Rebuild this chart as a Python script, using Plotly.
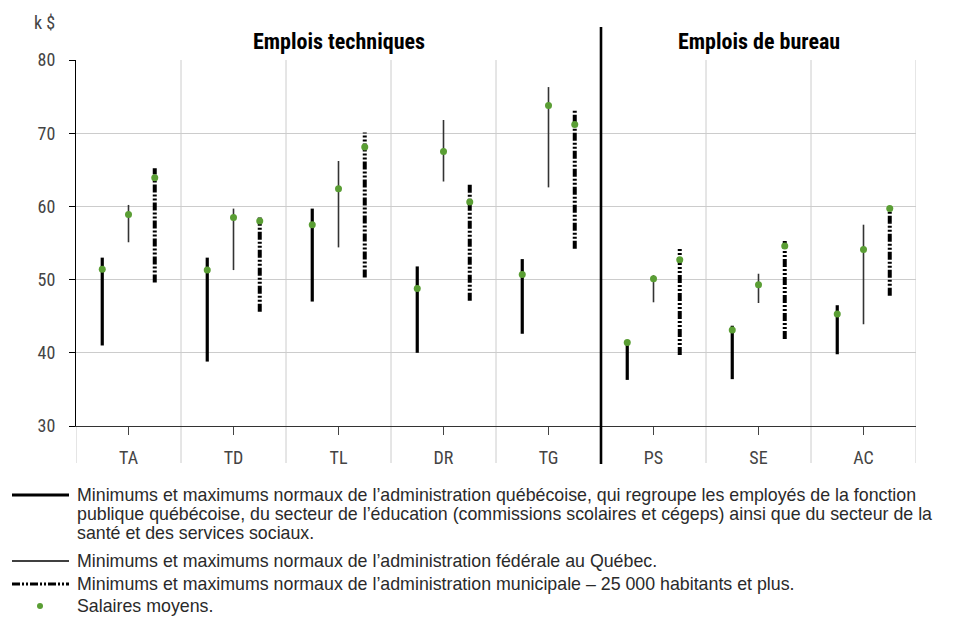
import plotly.graph_objects as go

categories = ["TA", "TD", "TL", "DR", "TG", "PS", "SE", "AC"]
y_ticks = [30, 40, 50, 60, 70, 80]

qc_min = [41.0, 38.8, 47.0, 40.0, 42.6, 36.3, 36.4, 39.8]
qc_max = [53.0, 53.0, 59.7, 51.8, 52.8, 41.6, 43.7, 46.5]
qc_mean = [51.4, 51.3, 57.5, 48.8, 50.7, 41.4, 43.1, 45.3]

fed_min = [55.1, 51.3, 54.4, 63.4, 62.6, 46.9, 46.8, 43.9]
fed_max = [60.2, 59.7, 66.2, 71.8, 76.3, 50.6, 50.8, 57.5]
fed_mean = [58.9, 58.5, 62.4, 67.5, 73.8, 50.1, 49.3, 54.1]

mun_min = [49.6, 45.6, 50.3, 47.1, 54.2, 39.7, 41.9, 47.8]
mun_max = [65.2, 58.5, 70.1, 63.1, 73.3, 54.4, 55.4, 59.8]
mun_mean = [63.9, 58.0, 68.1, 60.6, 71.2, 52.7, 54.6, 59.7]

group_titles = ["Emplois techniques", "Emplois de bureau"]
legend_lines = [
    "Minimums et maximums normaux de l’administration québécoise, qui regroupe les employés de la fonction",
    "publique québécoise, du secteur de l’éducation (commissions scolaires et cégeps) ainsi que du secteur de la",
    "santé et des services sociaux.",
    "Minimums et maximums normaux de l’administration fédérale au Québec.",
    "Minimums et maximums normaux de l’administration municipale – 25 000 habitants et plus.",
    "Salaires moyens.",
]

OFF = 8  # page body margin
W, H = 946, 609
ML, MT = 76 - OFF, 60 - OFF
PW, PH = 840, 366
MR, MB = W - ML - PW, H - MT - PH

COND = "Liberation Sans Narrow, Roboto Condensed, Roboto, sans-serif"
BODY = "Liberation Sans, Arial, sans-serif"
GREEN = "#5a9e34"


def px(xs):
    return (xs - OFF - ML) / PW


def py(ys):
    return (MT + PH - (ys - OFF)) / PH


def segs(offset, lo, hi):
    xs, ys = [], []
    for i, (a, b) in enumerate(zip(lo, hi)):
        xs += [i + offset, i + offset, None]
        ys += [a, b, None]
    return xs, ys


fig = go.Figure()
off = 0.25
x, y = segs(-off, qc_min, qc_max)
fig.add_trace(go.Scatter(x=x, y=y, mode="lines", line=dict(color="black", width=3.2), hoverinfo="skip"))
x, y = segs(0, fed_min, fed_max)
fig.add_trace(go.Scatter(x=x, y=y, mode="lines", line=dict(color="#333333", width=1.6), hoverinfo="skip"))
x, y = segs(off, mun_min, mun_max)
fig.add_trace(go.Scatter(x=x, y=y, mode="lines",
                         line=dict(color="black", width=4, dash="8px,2px,2px,2px,2px,2px"), hoverinfo="skip"))

mx, my = [], []
for i in range(len(categories)):
    mx += [i - off, i, i + off]
    my += [qc_mean[i], fed_mean[i], mun_mean[i]]
fig.add_trace(go.Scatter(x=mx, y=my, mode="markers", marker=dict(color=GREEN, size=7), hoverinfo="skip"))

shapes = []
n = len(categories)
for k in range(1, n + 1):
    shapes.append(dict(type="line", xref="x", yref="paper", x0=k - 0.5, x1=k - 0.5,
                       y0=py(463), y1=1, line=dict(color="#cccccc", width=1), layer="below"))
shapes.append(dict(type="line", xref="x", yref="paper", x0=-0.5, x1=-0.5,
                   y0=py(463), y1=0, line=dict(color="#cccccc", width=1), layer="below"))
# separator between groups
shapes.append(dict(type="line", xref="x", yref="paper", x0=4.5, x1=4.5,
                   y0=py(464), y1=py(27), line=dict(color="black", width=2.6)))

annotations = [
    dict(text="k $", xref="paper", yref="paper", x=px(57), y=py(22), xanchor="right", yanchor="middle",
         showarrow=False, font=dict(family=COND, size=18, color="#444")),
    dict(text="<b>%s</b>" % group_titles[0], xref="x", yref="paper", x=2, y=py(41),
         xanchor="center", yanchor="middle", showarrow=False, font=dict(family=COND, size=22, color="black")),
    dict(text="<b>%s</b>" % group_titles[1], xref="x", yref="paper", x=6, y=py(41),
         xanchor="center", yanchor="middle", showarrow=False, font=dict(family=COND, size=22, color="black")),
]

# legend
leg_y = [495, 514, 533, 561, 584, 606]
for t, yy in zip(legend_lines, leg_y):
    annotations.append(dict(text=t, xref="paper", yref="paper", x=px(75), y=py(yy), xanchor="left",
                            yanchor="middle", showarrow=False, font=dict(family=BODY, size=17.8, color="#2a2a2a")))
shapes.append(dict(type="line", xref="paper", yref="paper", x0=px(12), x1=px(69), y0=py(495), y1=py(495),
                   line=dict(color="black", width=3)))
shapes.append(dict(type="line", xref="paper", yref="paper", x0=px(12), x1=px(69), y0=py(561), y1=py(561),
                   line=dict(color="black", width=1.6)))
shapes.append(dict(type="line", xref="paper", yref="paper", x0=px(12), x1=px(69), y0=py(584), y1=py(584),
                   line=dict(color="black", width=3, dash="8px,2px,2px,2px,2px,2px")))
shapes.append(dict(type="circle", xref="paper", yref="paper", x0=px(37), x1=px(43), y0=py(609), y1=py(603),
                   fillcolor=GREEN, line=dict(color=GREEN, width=0)))

fig.update_layout(
    width=W, height=H,
    margin=dict(l=ML, r=MR, t=MT, b=MB, pad=0),
    paper_bgcolor="white", plot_bgcolor="white",
    showlegend=False,
    shapes=shapes, annotations=annotations,
    xaxis=dict(range=[-0.5, n - 0.5], tickmode="array", tickvals=list(range(n)), ticktext=categories,
               showgrid=False, zeroline=False, showline=True, linecolor="#333", linewidth=1.2,
               ticks="outside", ticklen=8, tickcolor="#444", tickwidth=1, ticklabelstandoff=7,
               tickfont=dict(family=COND, size=18, color="#444")),
    yaxis=dict(range=[30, 80], tickmode="array", tickvals=y_ticks,
               showgrid=True, gridcolor="#cccccc", gridwidth=1, zeroline=False,
               showline=True, linecolor="black", linewidth=1.2,
               ticks="outside", ticklen=6, tickcolor="black", ticklabelstandoff=10,
               tickfont=dict(family=COND, size=18, color="#444")),
)

fig.write_html("out.html")
